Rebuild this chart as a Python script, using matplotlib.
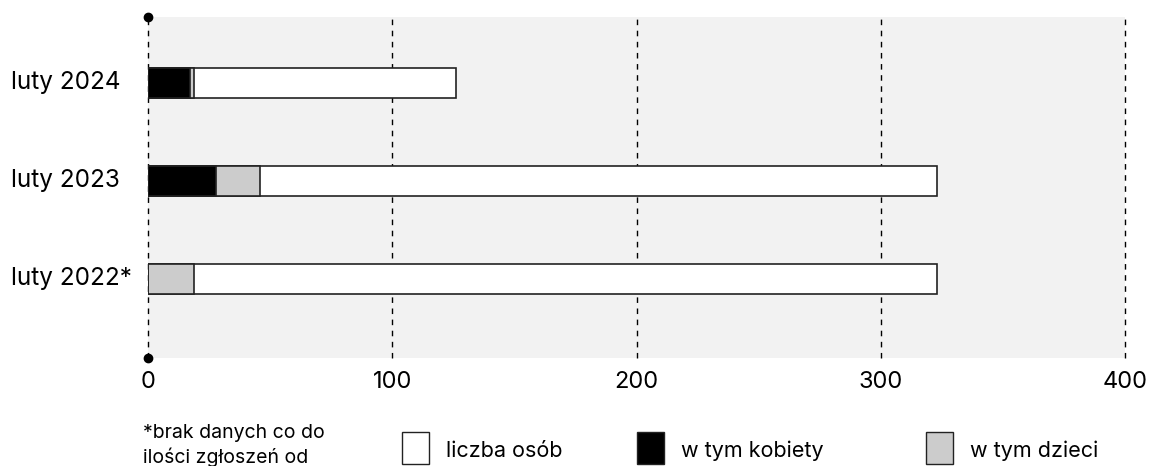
import matplotlib.pyplot as plt
from matplotlib.patches import Rectangle
from matplotlib.transforms import blended_transform_factory

plt.rcParams['font.family'] = ['Inter', 'DejaVu Sans']

categories = ["luty 2024", "luty 2023", "luty 2022*"]
liczba_osob = [126, 323, 323]
w_tym_kobiety = [17, 28, 0]
w_tym_dzieci = [19, 46, 19]
x_ticks = [0, 100, 200, 300, 400]

legend_labels = ["liczba osób", "w tym kobiety", "w tym dzieci"]
legend_colors = ["white", "black", "#cccccc"]

W, H = 1154, 466
fig = plt.figure(figsize=(W / 100, H / 100), dpi=100)
ax = fig.add_axes([148 / W, 108 / H, 977 / W, 341 / H])
ax.set_facecolor("#f2f2f2")

y = list(range(len(categories)))
h = 0.306
ax.barh(y, liczba_osob, height=h, color="white", edgecolor="#222222", linewidth=1.2, zorder=3)
ax.barh(y, w_tym_dzieci, height=h, color="#cccccc", edgecolor="#222222", linewidth=1.2, zorder=4)
ax.barh(y, w_tym_kobiety, height=h, color="black", edgecolor="#222222", linewidth=1.2, zorder=5)

ax.set_xlim(0, 400)
ax.set_ylim(2.806, -0.673)
ax.set_xticks(x_ticks)
ax.set_yticks([])
ax.tick_params(axis="x", length=0, labelsize=17, pad=9)
for s in ax.spines.values():
    s.set_visible(False)

# category labels, left aligned
trans = blended_transform_factory(fig.transFigure, ax.transData)
for yi, lab in zip(y, categories):
    ax.text(11 / W, yi, lab, transform=trans, fontsize=17.5, ha="left", va="center")

for xv in x_ticks:
    ax.axvline(xv, color="black", linestyle=(0, (4, 4)), linewidth=1, zorder=1, clip_on=False)

ax.plot([0, 0], [-0.673, 2.806], "o", color="black", markersize=6, clip_on=False, zorder=6)

# footnote
fig.text(143 / W, 1 - 438 / H, "*brak danych co do", fontsize=14, va="baseline", ha="left")
fig.text(143 / W, 1 - 463 / H, "ilości zgłoszeń od", fontsize=14, va="baseline", ha="left")

# legend
box_x = [402, 637, 926]
for bx, lab, col in zip(box_x, legend_labels, legend_colors):
    fig.patches.append(Rectangle((bx / W, 1 - 464 / H), 27 / W, 32 / H,
                                 transform=fig.transFigure, facecolor=col,
                                 edgecolor="#222222", linewidth=1))
    fig.text((bx + 44) / W, 1 - 457 / H, lab, fontsize=15.5, va="baseline", ha="left")

fig.savefig("out.png", dpi=100)
